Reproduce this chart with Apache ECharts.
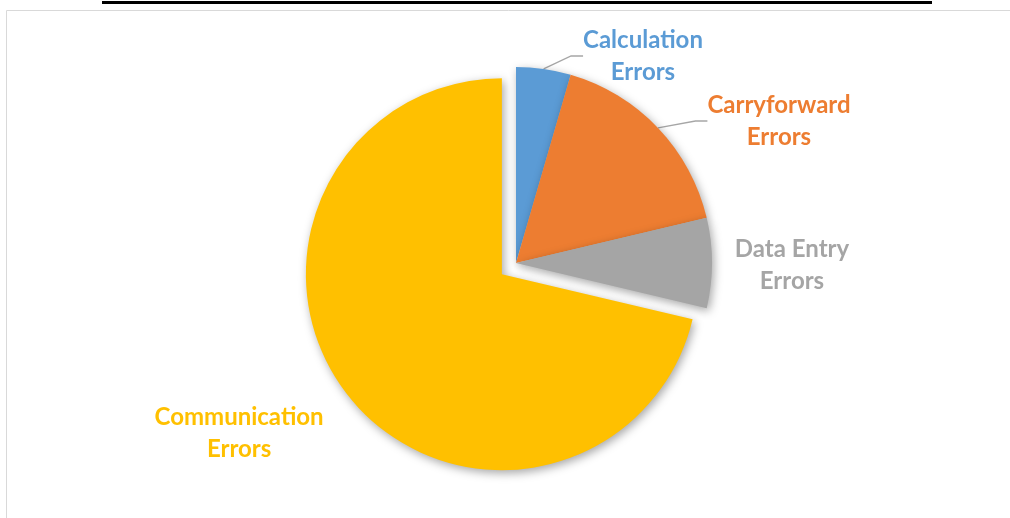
<!DOCTYPE html>
<html>
<head>
<meta charset="utf-8">
<script src="https://cdn.jsdelivr.net/npm/echarts@6/dist/echarts.min.js"></script>
<style>
  html, body { margin: 0; padding: 0; background: #fff; }
  #pieChart-errors { width: 1010px; height: 518px; }
</style>
</head>
<body>
<div id="pieChart-errors"></div>
<script>
/** error categories and their shares */
const categories = ['Calculation\nErrors', 'Carryforward\nErrors', 'Data Entry\nErrors', 'Communication\nErrors']
const values = [4.5, 16.8, 7.4, 71.3]
const colors = ['#5B9BD5', '#ED7D31', '#A5A5A5', '#FFC000']

/** where each label block sits (centre); the exploded slice keeps its own label spot */
const labelSpots = [[643, 56], [779, 121], [792, 265], null]
const showLines = [true, true, false, false]

const chart = echarts.init(document.getElementById('pieChart-errors'))

let pieData = categories.map((name, i) => {
    let item = {
        name: name,
        value: values[i],
        itemStyle: { color: colors[i] },
        label: { color: colors[i] },
        labelLine: { show: showLines[i] }
    }
    if (i === 3) {
        // exploded slice: its label follows the select offset, so place it via line lengths
        item.selected = true
        item.labelLine.length = 60
        item.labelLine.length2 = 57
    }
    return item
})

chart.setOption({
    animation: false,
    graphic: [
        {
            type: 'rect',
            shape: { x: 6.5, y: 10.5, width: 1020, height: 520 },
            style: { fill: 'none', stroke: '#d9d9d9', lineWidth: 1 },
            silent: true
        },
        {
            type: 'rect',
            shape: { x: 102, y: 1, width: 830, height: 3 },
            style: { fill: '#000' },
            silent: true
        }
    ],
    series: [
        {
            type: 'pie',
            center: [516, 263],
            radius: 196,
            startAngle: 90,
            clockwise: true,
            selectedMode: 'single',
            selectedOffset: 18,
            data: pieData,
            emphasis: { disabled: true },
            itemStyle: {
                shadowBlur: 10,
                shadowColor: 'rgba(0,0,0,0.35)',
                shadowOffsetX: 2,
                shadowOffsetY: 3
            },
            label: {
                show: true,
                position: 'outside',
                fontFamily: 'Lato',
                fontWeight: 'bold',
                fontSize: 24,
                lineHeight: 32,
                align: 'center'
            },
            labelLine: {
                show: true,
                length: 20,
                length2: 12,
                lineStyle: { color: '#a6a6a6', width: 1.3 }
            },
            labelLayout: (params) => {
                let spot = labelSpots[params.dataIndex]
                if (!spot) {
                    return { align: 'center', verticalAlign: 'middle' }
                }
                return {
                    x: spot[0],
                    y: spot[1],
                    align: 'center',
                    verticalAlign: 'middle'
                }
            }
        }
    ]
})
</script>
</body>
</html>
